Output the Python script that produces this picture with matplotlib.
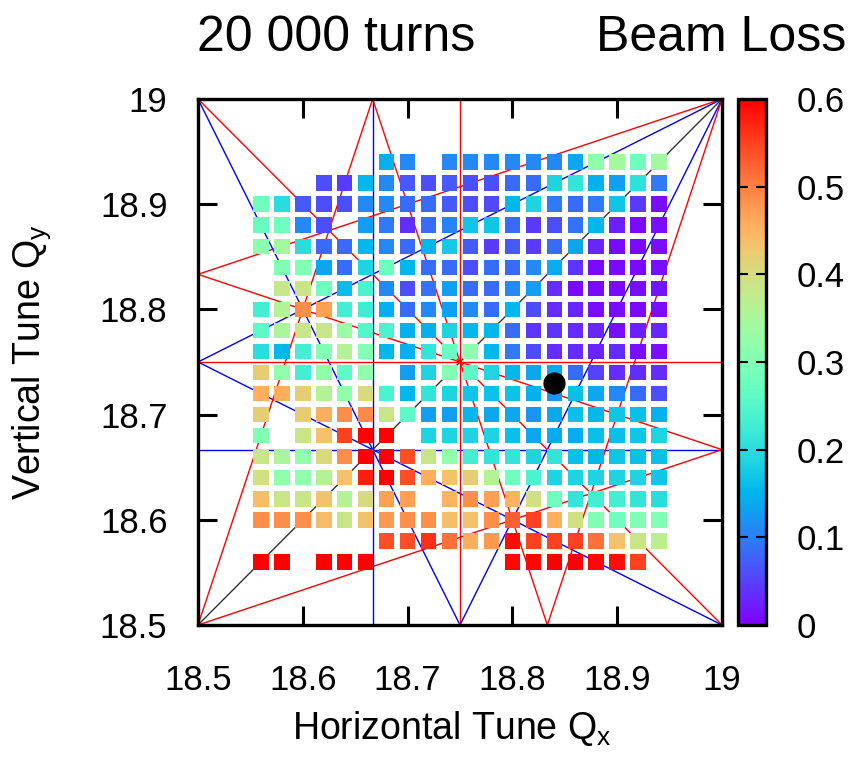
import numpy as np
import matplotlib
matplotlib.use("Agg")
import matplotlib.pyplot as plt
from matplotlib.colors import ListedColormap

plt.rcParams['font.family'] = ['Liberation Sans', 'DejaVu Sans']

# ---------------- data ----------------
qx_values = [18.56, 18.58, 18.60, 18.62, 18.64, 18.66, 18.68, 18.70, 18.72, 18.74,
             18.76, 18.78, 18.80, 18.82, 18.84, 18.86, 18.88, 18.90, 18.92, 18.94]
qy_values = [18.94, 18.92, 18.90, 18.88, 18.86, 18.84, 18.82, 18.80, 18.78, 18.76,
             18.74, 18.72, 18.70, 18.68, 18.66, 18.64, 18.62, 18.60, 18.58, 18.56]
N = None
# beam loss, one row per Qy (top row first), one column per Qx
beam_loss = [
    [N, N, N, N, N, N, 0.146, 0.11, N, 0.11, 0.11, 0.11, 0.11, 0.11, 0.11, 0.138, 0.32, 0.34, 0.28, 0.34],
    [N, N, N, 0.06, 0.045, 0.153, 0.11, 0.068, 0.06, 0.068, 0.06, 0.06, 0.083, 0.083, 0.186, 0.213, 0.146, 0.13, 0.205, 0.095],
    [0.28, 0.20, 0.068, 0.06, 0.06, 0.11, 0.11, 0.083, 0.083, 0.068, 0.06, 0.058, 0.153, 0.186, 0.095, 0.083, 0.095, 0.171, 0.045, 0.01],
    [0.27, 0.28, 0.11, 0.06, N, 0.125, 0.095, 0.035, 0.083, 0.105, 0.171, 0.171, 0.083, 0.045, 0.06, 0.09, 0.153, 0.025, 0.008, 0.01],
    [0.31, 0.34, 0.20, 0.083, 0.083, 0.153, 0.11, 0.083, 0.153, 0.175, 0.068, 0.045, 0.07, 0.045, 0.083, 0.135, 0.03, 0.008, 0.008, 0.01],
    [N, 0.30, 0.30, 0.135, 0.083, 0.186, 0.28, 0.153, 0.083, 0.083, 0.06, 0.083, 0.083, 0.11, 0.142, 0.04, 0.008, 0.008, 0.008, 0.01],
    [N, 0.38, 0.385, 0.28, 0.16, 0.24, 0.11, 0.06, 0.09, 0.13, 0.083, 0.083, 0.11, 0.13, 0.035, 0.008, 0.008, 0.008, 0.01, 0.015],
    [0.23, 0.36, 0.487, 0.47, 0.23, 0.225, 0.146, 0.083, 0.11, 0.13, 0.11, 0.083, 0.153, 0.06, 0.035, 0.03, 0.01, 0.01, 0.008, 0.01],
    [0.26, 0.35, 0.385, 0.385, 0.33, 0.25, 0.24, 0.146, 0.146, 0.186, 0.153, 0.153, 0.083, 0.04, 0.04, 0.035, 0.03, 0.01, 0.025, 0.03],
    [0.20, 0.153, 0.23, 0.30, 0.36, 0.30, 0.153, 0.146, 0.213, 0.27, 0.315, 0.153, 0.095, 0.06, 0.035, 0.035, 0.027, 0.035, 0.01, 0.01],
    [0.42, 0.32, 0.23, 0.32, 0.26, 0.32, N, 0.13, 0.186, 0.30, 0.26, 0.186, 0.153, 0.138, 0.14, 0.083, 0.05, 0.035, 0.035, 0.035],
    [0.455, 0.455, 0.42, 0.36, 0.32, 0.405, 0.24, 0.153, 0.213, 0.186, 0.171, 0.165, 0.165, 0.146, 0.12, 0.162, 0.138, 0.11, 0.083, 0.06],
    [0.42, N, 0.42, 0.455, 0.487, 0.49, 0.385, 0.26, 0.13, 0.13, 0.153, 0.138, 0.138, 0.12, 0.138, 0.162, 0.153, 0.171, 0.162, 0.146],
    [0.30, N, 0.385, 0.435, 0.55, 0.60, 0.60, N, 0.186, 0.186, 0.186, 0.186, 0.162, 0.138, 0.142, 0.142, 0.162, 0.162, 0.171, 0.186],
    [0.385, 0.35, 0.32, 0.405, 0.487, 0.60, 0.60, 0.54, 0.385, 0.32, 0.23, 0.213, 0.213, 0.186, 0.213, 0.162, 0.153, 0.171, 0.162, 0.162],
    [0.395, 0.32, 0.32, 0.36, 0.435, 0.576, 0.60, 0.54, 0.455, 0.435, 0.42, 0.36, 0.28, 0.24, 0.186, 0.186, 0.186, 0.186, 0.186, 0.171],
    [0.44, 0.385, 0.385, 0.435, 0.36, 0.405, 0.47, 0.47, N, 0.45, 0.487, 0.47, 0.45, 0.395, 0.28, 0.213, 0.23, 0.23, 0.213, 0.20],
    [0.487, 0.487, 0.487, 0.44, 0.385, 0.435, 0.477, 0.487, 0.487, 0.44, 0.435, 0.487, 0.525, 0.55, 0.455, 0.395, 0.30, 0.28, 0.30, 0.30],
    [N, N, N, N, N, N, 0.54, 0.54, 0.564, 0.513, 0.455, 0.477, 0.59, 0.55, 0.55, 0.55, 0.513, 0.435, 0.385, 0.37],
    [0.60, 0.60, N, 0.60, 0.60, 0.60, N, N, N, N, N, N, 0.595, 0.595, 0.60, 0.60, 0.595, 0.59, 0.55, N],
]

# resonance lines m*Qx + n*Qy = p
res4_m = [4, 0, 3, 1, 2, 3, 3, -1, -1]
res4_n = [0, 4, 1, 3, 2, -1, -1, 3, 3]
res4_p = [75, 75, 75, 75, 75, 37, 38, 37, 38]
res3_m = [3, 0, 2, 1, 2, -1]
res3_n = [0, 3, 1, 2, -1, 2]
res3_p = [56, 56, 56, 56, 19, 19]
coup_m, coup_n, coup_p = [1], [-1], [0]

working_qx = [18.84]
working_qy = [18.73]

tick_vals = [18.5, 18.6, 18.7, 18.8, 18.9, 19.0]
tick_labels = ['18.5', '18.6', '18.7', '18.8', '18.9', '19']
cb_ticks = [0, 0.1, 0.2, 0.3, 0.4, 0.5, 0.6]
cb_labels = ['0', '0.1', '0.2', '0.3', '0.4', '0.5', '0.6']

# ---------------- colormap (gnuplot rgbformulae 33,13,10) ----------------
t = np.linspace(0, 1, 256)
cols = np.stack([np.clip(np.abs(2 * t - 0.5), 0, 1),
                 np.clip(np.sin(np.pi * t), 0, 1),
                 np.clip(np.cos(np.pi * t / 2), 0, 1)], axis=1)
cmap = ListedColormap(cols)

W, H = 859, 762
fig = plt.figure(figsize=(W / 100, H / 100), dpi=100)
ax = fig.add_axes([198 / W, (H - 625) / H, 524 / W, 526 / H])
cax = fig.add_axes([738 / W, (H - 625) / H, 28 / W, 526 / H])

lo, hi = 18.5, 19.0


def draw_res(ms, ns, ps, color, lw):
    for m, n, p in zip(ms, ns, ps):
        if n == 0:
            ax.axvline(p / m, color=color, lw=lw, zorder=1)
        elif m == 0:
            ax.axhline(p / n, color=color, lw=lw, zorder=1)
        else:
            ax.axline((lo, (p - m * lo) / n), slope=-m / n, color=color, lw=lw, zorder=1)


draw_res(coup_m, coup_n, coup_p, '#333333', 1.0)
draw_res(res3_m, res3_n, res3_p, '#0000ff', 1.0)
draw_res(res4_m, res4_n, res4_p, '#ff0000', 1.0)

QX, QY = np.meshgrid(qx_values, qy_values)
vals = np.array([[np.nan if v is None else v for v in row] for row in beam_loss], dtype=float)
mask = ~np.isnan(vals)
sc = ax.scatter(QX[mask], QY[mask], c=vals[mask], cmap=cmap, vmin=0, vmax=0.6,
                marker='s', s=125, linewidths=0, zorder=3)

ax.plot(working_qx, working_qy, 'o', color='black', ms=15, zorder=5)

ax.set_xlim(lo, hi)
ax.set_ylim(lo, hi)
ax.set_xticks(tick_vals)
ax.set_xticklabels(tick_labels)
ax.set_yticks(tick_vals)
ax.set_yticklabels(tick_labels)
ax.tick_params(direction='in', top=True, right=True, length=14, width=2.2,
               labelsize=25)
ax.tick_params(axis='x', pad=28)
ax.tick_params(axis='y', pad=22)
for s in ax.spines.values():
    s.set_linewidth(2.4)

cb = fig.colorbar(sc, cax=cax, ticks=cb_ticks)
cb.set_ticklabels(cb_labels)
cax.tick_params(direction='in', left=True, right=True, length=7, width=1.5,
                labelsize=25, pad=22)
cb.outline.set_linewidth(2.4)

fig.text(197 / W, 1 - 51 / H, '20 000 turns', fontsize=36, ha='left', va='baseline')
fig.text(846 / W, 1 - 51 / H, 'Beam Loss', fontsize=36, ha='right', va='baseline')
fig.text(452 / W, 1 - 729 / H, r'Horizontal Tune Q$_\mathregular{x}$', fontsize=27,
         ha='center', va='center')
fig.text(32 / W, 1 - 362 / H, r'Vertical Tune Q$_\mathregular{y}$', fontsize=27,
         ha='center', va='center', rotation=90)

fig.savefig('out.png', dpi=100)
